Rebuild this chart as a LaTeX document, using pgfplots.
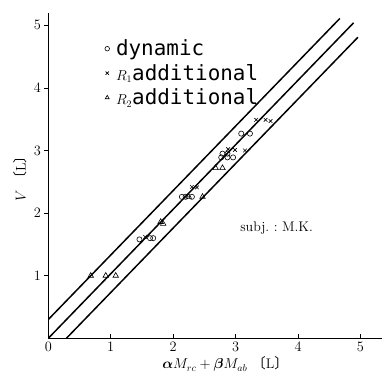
\documentclass[border=0pt]{standalone}
\usepackage{pgfplots}
\pgfplotsset{compat=1.18}
\usepackage{amsmath}
\usepackage{fontspec}
\newfontfamily\cjk{Noto Sans CJK JP}
\newfontfamily\monof{DejaVu Sans Mono}
\begin{document}
\begin{tikzpicture}
\path[use as bounding box] (-48.3bp,-38.7bp) rectangle (333.7bp,338.3bp);
\begin{axis}[
  scale only axis, width=334bp, height=325.5bp,
  xmin=0, xmax=5.35, ymin=0, ymax=5.2,
  axis x line*=bottom, axis y line*=left,
  axis line style={line width=1.1pt,-},
  xtick={0,1,2,3,4,5}, ytick={1,2,3,4,5},
  xtick align=inside, ytick align=outside,
  major tick length=4bp,
  tick style={black, line width=0.7pt},
  tick label style={font=\fontsize{15}{16}\selectfont},
  xlabel={$\boldsymbol{\alpha} M_{rc}+\boldsymbol{\beta} M_{ab}$\ {\cjk 〔}L{\cjk 〕}},
  ylabel={$V$\ {\cjk 〔}L{\cjk 〕}},
  xlabel style={font=\fontsize{14}{15}\selectfont, yshift=1bp, xshift=10bp},
  ylabel style={font=\fontsize{14}{15}\selectfont, yshift=0bp},
  legend cell align=left,
  legend style={at={(axis cs:0.90,4.80)}, anchor=north west, draw=none, fill=none,
    font=\monof\fontsize{21}{24}\selectfont, row sep=3pt, inner sep=0pt,
    /tikz/column 2/.style={column sep=0pt}},
  legend image code/.code={%
    \path[draw=none, fill=none] (0,0) rectangle (0.33cm,0.01cm);
    \draw[#1, mark size=2.3pt] plot coordinates {(0.09cm,0cm)};},
]
% measured points
\addplot[only marks, mark=o, mark size=2.6pt, line width=0.6pt] coordinates {
  (1.46,1.58) (1.63,1.60) (1.68,1.60)
  (2.14,2.26) (2.20,2.26) (2.30,2.26)
  (2.77,2.89) (2.87,2.89) (2.96,2.89) (2.79,2.95) (2.87,2.95)
  (3.09,3.27) (3.23,3.27)
};
\addlegendentry{dynamic}
\addplot[only marks, mark=x, mark size=2.6pt, line width=0.6pt] coordinates {
  (1.55,1.62)
  (2.30,2.42) (2.38,2.41)
  (2.88,3.02) (2.99,3.01) (3.15,3.00)
  (3.33,3.49) (3.48,3.49) (3.56,3.47)
};
\addlegendentry{\normalfont\fontsize{14}{14}\selectfont$R_1$\monof\fontsize{21}{24}\selectfont additional}
\addplot[only marks, mark=triangle, mark size=3.2pt, line width=0.6pt] coordinates {
  (0.68,1.00) (0.92,1.00) (1.08,1.00)
  (1.80,1.86) (1.84,1.83)
  (2.25,2.26) (2.47,2.26)
  (2.68,2.72) (2.79,2.72)
};
\addlegendentry{\normalfont\fontsize{14}{14}\selectfont$R_2$\monof\fontsize{21}{24}\selectfont additional}
% regression line and its bounds
\addplot[black, line width=1.5pt, forget plot] coordinates {(0,0.3) (4.67,5.11)};
\addplot[black, line width=1.5pt, forget plot] coordinates {(0,0) (4.89,5.04)};
\addplot[black, line width=1.5pt, forget plot] coordinates {(0.29,0) (4.96,4.81)};
\node[anchor=west, font=\fontsize{14}{15}\selectfont] at (axis cs:3.02,1.76) {subj.\ :\ M.K.};
\end{axis}
\end{tikzpicture}
\end{document}
